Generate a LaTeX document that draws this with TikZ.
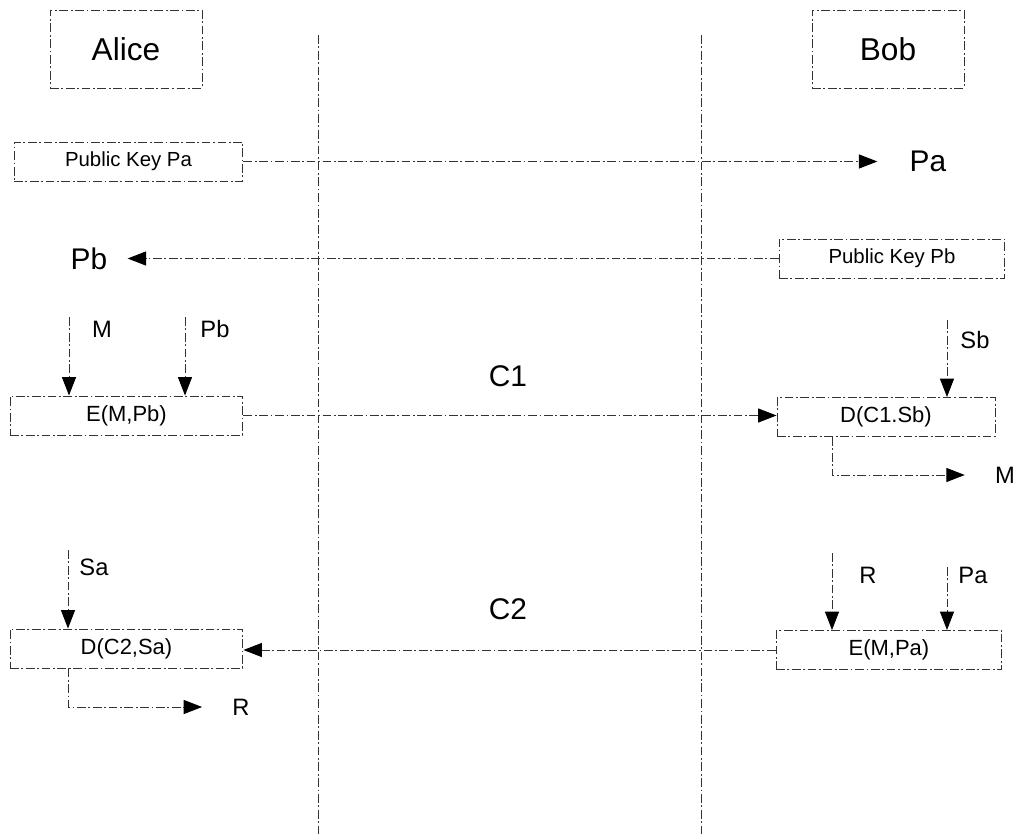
\documentclass[tikz,border=0pt]{standalone}
\usepackage{fontspec}
\setmainfont{Liberation Sans}
\usepackage{tikz}
\usetikzlibrary{arrows.meta, positioning, calc}

\begin{document}
\begin{tikzpicture}[
    x=0.02cm, y=-0.02cm,
    dashdot/.style={draw=black!80, line width=0.55pt, dash pattern=on 5pt off 1.5pt on 1pt off 1.5pt},
    party/.style={rectangle, dashdot, minimum width=3.04cm, minimum height=1.56cm, font=\fontsize{18}{20}\selectfont},
    keybox/.style={rectangle, dashdot, minimum height=0.78cm, font=\fontsize{11.6}{13}\selectfont},
    opbox/.style={rectangle, dashdot, minimum height=0.78cm, font=\fontsize{12.5}{14}\selectfont},
    big/.style={inner sep=0pt, font=\fontsize{17}{19}\selectfont},
    small/.style={inner sep=0pt, font=\fontsize{13.5}{15}\selectfont},
    arrow/.style={dashdot, -{Triangle[length=10.5pt,width=8pt,color=black]}}
]
\useasboundingbox (0,0) rectangle (1019,835);

% lifelines
\coordinate (ltop) at (318,35);
\coordinate (lbot) at (318,835);
\coordinate (rtop) at (701,35);
\coordinate (rbot) at (701,835);
\draw[dashdot] (ltop) -- (lbot);
\draw[dashdot] (rtop) -- (rbot);

% parties
\node[party] (alice) at (126,49) {Alice};
\node[party] (bob) at (888,49) {Bob};

% key exchange
\node[keybox, minimum width=4.58cm] (pka) at (128.5,161.5) {Public Key Pa};
\node[big] (pa) at (928,161.5) {Pa};
\node[keybox, minimum width=4.52cm] (pkb) at (892,258.5) {Public Key Pb};
\node[big] (pb) at (89,258.5) {Pb};

\draw[arrow, shorten >=0.64cm] (pka.east) -- (pka.east -| pa.west);
\draw[arrow, shorten >=0.4cm] (pkb.west) -- (pkb.west -| pb.east);

% first message
\node[opbox, minimum width=4.66cm] (emp) at (126.5,415.5) {E(M,Pb)};
\node[opbox, minimum width=4.36cm] (dcs) at (886,417) {D(C1.Sb)};
\node[big] (cone) at (508,376) {C1};

\coordinate (mtop) at (69,317);
\coordinate (pbtop) at (185,317);
\coordinate (sbtop) at (947,320);
\coordinate (mbend) at (832,475);
\node[small] (mlab) at (102,329) {M};
\node[small] (pblab) at (215,329) {Pb};
\node[small] (sblab) at (975,340) {Sb};
\node[small] (mres) at (1005,475) {M};

\draw[arrow] (mtop) -- (mtop |- emp.north);
\draw[arrow] (pbtop) -- (pbtop |- emp.north);
\draw[arrow] (emp.east) -- (emp.east -| dcs.west);
\draw[arrow] (sbtop) -- (sbtop |- dcs.north);
\draw[arrow, shorten >=0.6cm] (dcs.south -| mbend) -- (mbend) -- (mres.west);

% reply
\node[opbox, minimum width=4.52cm] (emp2) at (889,650) {E(M,Pa)};
\node[opbox, minimum width=4.66cm] (dcs2) at (126.5,648.5) {D(C2,Sa)};
\node[big] (ctwo) at (508,609) {C2};

\coordinate (rin) at (832,553);
\coordinate (pain) at (947,567);
\coordinate (satop) at (68,550);
\coordinate (rbend) at (68,707);
\node[small] (rlab) at (868,575) {R};
\node[small] (palab) at (973,575) {Pa};
\node[small] (salab) at (94,567) {Sa};
\node[small] (rres) at (241,707) {R};

\draw[arrow] (rin) -- (rin |- emp2.north);
\draw[arrow] (pain) -- (pain |- emp2.north);
\draw[arrow] (emp2.west) -- (emp2.west -| dcs2.east);
\draw[arrow] (satop) -- (satop |- dcs2.north);
\draw[arrow, shorten >=0.6cm] (dcs2.south -| rbend) -- (rbend) -- (rres.west);

\end{tikzpicture}
\end{document}
